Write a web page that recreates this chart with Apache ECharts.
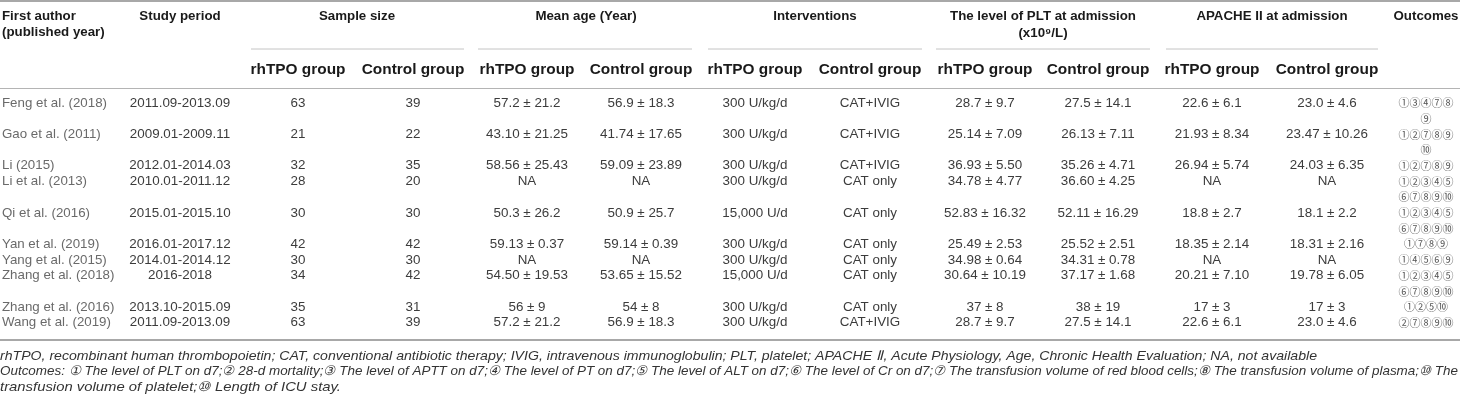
<!DOCTYPE html>
<html>
<head>
<meta charset="utf-8">
<script src="https://cdn.jsdelivr.net/npm/echarts@6/dist/echarts.min.js"></script>
<style>
body { margin: 0; background: #fff; }
#main { width: 1460px; height: 405px; }
</style>
</head>
<body>
<div id="main"></div>
<script>
var myChart = echarts.init(document.getElementById('main'));

// table data
var authors = ['Feng et al. (2018)', 'Gao et al. (2011)', 'Li (2015)', 'Li et al. (2013)', 'Qi et al. (2016)', 'Yan et al. (2019)', 'Yang et al. (2015)', 'Zhang et al. (2018)', 'Zhang et al. (2016)', 'Wang et al. (2019)'];
var periods = ['2011.09-2013.09', '2009.01-2009.11', '2012.01-2014.03', '2010.01-2011.12', '2015.01-2015.10', '2016.01-2017.12', '2014.01-2014.12', '2016-2018', '2013.10-2015.09', '2011.09-2013.09'];
var sampleRh = [63, 21, 32, 28, 30, 42, 30, 34, 35, 63];
var sampleCtrl = [39, 22, 35, 20, 30, 42, 30, 42, 31, 39];
var ageRh = ['57.2 ± 21.2', '43.10 ± 21.25', '58.56 ± 25.43', 'NA', '50.3 ± 26.2', '59.13 ± 0.37', 'NA', '54.50 ± 19.53', '56 ± 9', '57.2 ± 21.2'];
var ageCtrl = ['56.9 ± 18.3', '41.74 ± 17.65', '59.09 ± 23.89', 'NA', '50.9 ± 25.7', '59.14 ± 0.39', 'NA', '53.65 ± 15.52', '54 ± 8', '56.9 ± 18.3'];
var intRh = ['300 U/kg/d', '300 U/kg/d', '300 U/kg/d', '300 U/kg/d', '15,000 U/d', '300 U/kg/d', '300 U/kg/d', '15,000 U/d', '300 U/kg/d', '300 U/kg/d'];
var intCtrl = ['CAT+IVIG', 'CAT+IVIG', 'CAT+IVIG', 'CAT only', 'CAT only', 'CAT only', 'CAT only', 'CAT only', 'CAT only', 'CAT+IVIG'];
var pltRh = ['28.7 ± 9.7', '25.14 ± 7.09', '36.93 ± 5.50', '34.78 ± 4.77', '52.83 ± 16.32', '25.49 ± 2.53', '34.98 ± 0.64', '30.64 ± 10.19', '37 ± 8', '28.7 ± 9.7'];
var pltCtrl = ['27.5 ± 14.1', '26.13 ± 7.11', '35.26 ± 4.71', '36.60 ± 4.25', '52.11 ± 16.29', '25.52 ± 2.51', '34.31 ± 0.78', '37.17 ± 1.68', '38 ± 19', '27.5 ± 14.1'];
var apRh = ['22.6 ± 6.1', '21.93 ± 8.34', '26.94 ± 5.74', 'NA', '18.8 ± 2.7', '18.35 ± 2.14', 'NA', '20.21 ± 7.10', '17 ± 3', '22.6 ± 6.1'];
var apCtrl = ['23.0 ± 4.6', '23.47 ± 10.26', '24.03 ± 6.35', 'NA', '18.1 ± 2.2', '18.31 ± 2.16', 'NA', '19.78 ± 6.05', '17 ± 3', '23.0 ± 4.6'];
var outcomes = [['①③④⑦⑧', '⑨'], ['①②⑦⑧⑨', '⑩'], ['①②⑦⑧⑨'], ['①②③④⑤', '⑥⑦⑧⑨⑩'], ['①②③④⑤', '⑥⑦⑧⑨⑩'], ['①⑦⑧⑨'], ['①④⑤⑥⑨'], ['①②③④⑤', '⑥⑦⑧⑨⑩'], ['①②⑤⑩'], ['②⑦⑧⑨⑩']];

var groups = ['Sample size', 'Mean age (Year)', 'Interventions', 'The level of PLT at admission', 'APACHE II at admission'];
var subHeads = ['rhTPO group', 'Control group'];
var notes = [
	'rhTPO, recombinant human thrombopoietin; CAT, conventional antibiotic therapy; IVIG, intravenous immunoglobulin; PLT, platelet; APACHE Ⅱ, Acute Physiology, Age, Chronic Health Evaluation; NA, not available',
	'Outcomes: ① The level of PLT on d7;② 28-d mortality;③ The level of APTT on d7;④ The level of PT on d7;⑤ The level of ALT on d7;⑥ The level of Cr on d7;⑦ The transfusion volume of red blood cells;⑧ The transfusion volume of plasma;⑩ The',
	'transfusion volume of platelet;⑩ Length of ICU stay.'
];
var noteWidths = [1317, 1458, 341];

// layout
var FONT = '"Liberation Sans", Arial, sans-serif';
var colX = [2, 180, 298, 413, 527, 641, 755, 870, 985, 1098, 1212, 1327, 1426];
var groupX = [357, 586, 815, 1043, 1272];
var groupLine = [[251, 464], [478, 692], [708, 922], [936, 1150], [1166, 1378]];
var rowTop = 103, lineH = 15.7;

var els = [];

function text(x, y, s, size, opt) {
	opt = opt || {};
	els.push({
		type: 'text',
		x: x,
		y: y,
		scaleX: opt.scaleX || 1,
		silent: true,
		style: {
			text: s,
			fontFamily: opt.family || FONT,
			fontSize: size,
			fontWeight: opt.bold ? 'bold' : 'normal',
			fontStyle: opt.italic ? 'italic' : 'normal',
			fill: opt.color || '#3c3c3c',
			align: opt.align || 'center',
			textAlign: opt.align || 'center',
			verticalAlign: 'middle',
			textVerticalAlign: 'middle'
		}
	});
}

function rule(x1, x2, y, color, w) {
	els.push({
		type: 'line',
		silent: true,
		shape: { x1: x1, y1: y, x2: x2, y2: y },
		style: { stroke: color, lineWidth: w }
	});
}

// rules
rule(0, 1460, 1, '#a8a8a8', 2);
rule(0, 1460, 88.5, '#b4b4b4', 1.2);
rule(0, 1460, 340, '#a8a8a8', 2);
groupLine.forEach(function (g) {
	rule(g[0], g[1], 49, '#c4c4c4', 1);
});

// header
var HEAD = '#1a1a1a';
text(colX[0], 16, 'First author', 13.3, { bold: true, align: 'left', color: HEAD });
text(colX[0], 32, '(published year)', 13.3, { bold: true, align: 'left', color: HEAD });
text(colX[1], 16, 'Study period', 13.3, { bold: true, color: HEAD });
groups.forEach(function (g, i) {
	text(groupX[i], 16, g, 13.3, { bold: true, color: HEAD });
});
text(groupX[3], 33, '(x10⁹/L)', 13.3, { bold: true, color: HEAD });
text(colX[12], 16, 'Outcomes', 13.3, { bold: true, color: HEAD });
for (var k = 0; k < 5; k++) {
	text(colX[2 + k * 2], 70, subHeads[0], 15.4, { bold: true, color: HEAD });
	text(colX[3 + k * 2], 70, subHeads[1], 15.4, { bold: true, color: HEAD });
}

// body rows
var line = 0;
for (var i = 0; i < authors.length; i++) {
	var y = rowTop + line * lineH;
	var cells = [periods[i], sampleRh[i], sampleCtrl[i], ageRh[i], ageCtrl[i], intRh[i], intCtrl[i],
		pltRh[i], pltCtrl[i], apRh[i], apCtrl[i]];
	text(colX[0], y, authors[i], 13.3, { align: 'left', color: '#6a6a6a' });
	cells.forEach(function (c, j) {
		text(colX[j + 1], y, String(c), 13.4);
	});
	outcomes[i].forEach(function (o, j) {
		text(colX[12], y + j * lineH, o, 11, { family: '"Noto Sans CJK SC", "DejaVu Sans", sans-serif', color: '#555' });
	});
	line += outcomes[i].length;
}

// footnotes, fitted to the width each line takes in the source
var ctx = document.createElement('canvas').getContext('2d');
ctx.font = 'italic 13.3px ' + FONT;
notes.forEach(function (n, i) {
	var w = ctx.measureText(n).width;
	text(0, 356 + i * 15.5, n, 13.3, { italic: true, align: 'left', color: '#333', scaleX: noteWidths[i] / w });
});

option = {
	animation: false,
	graphic: { elements: els }
};
myChart.setOption(option);
window.onresize = myChart.resize;
</script>
</body>
</html>
